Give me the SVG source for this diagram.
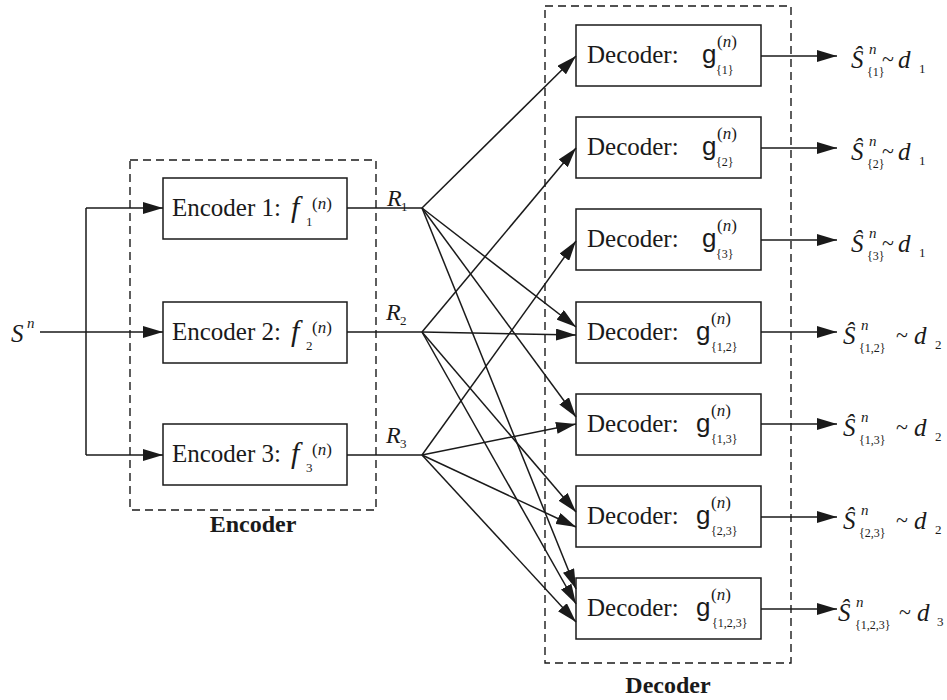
<svg xmlns="http://www.w3.org/2000/svg" width="947" height="700" viewBox="0 0 947 700">
<style>
text{font-family:"Liberation Serif","Times New Roman",serif;fill:#1a1a1a}
.box{fill:#fff;stroke:#1a1a1a;stroke-width:1.5}
.dash{fill:none;stroke:#1a1a1a;stroke-width:1.4;stroke-dasharray:8 5}
.ln{fill:none;stroke:#1a1a1a;stroke-width:1.5}
.ar{fill:none;stroke:#1a1a1a;stroke-width:1.5;marker-end:url(#ah)}
.lbl{font-size:25px}
.it{font-style:italic}
.f{font-size:30px;font-style:italic}
.sup{font-size:17px}
.sub{font-size:12px}
.g{font-family:"Liberation Sans",Arial,sans-serif;font-size:26px}
.out{font-size:25px;font-style:italic}
.on{font-size:15px;font-style:italic}
.til{font-size:22px}
.r{font-size:24px;font-style:italic}
.bold{font-size:24px;font-weight:bold}
</style>
<defs>
<marker id="ah" markerUnits="userSpaceOnUse" viewBox="0 0 20 12" refX="20" refY="6" markerWidth="20" markerHeight="12" orient="auto">
<path d="M0,0 L20,6 L0,12 Z" fill="#1a1a1a"/>
</marker>
</defs>

<g id="encoder-group">
<rect class="dash" x="130" y="160" width="246" height="350"/>
<text class="bold" x="253" y="532" text-anchor="middle">Encoder</text>
</g>
<g id="decoder-group">
<rect class="dash" x="545" y="6" width="246" height="657"/>
<text class="bold" x="668" y="693" text-anchor="middle">Decoder</text>
</g>

<g id="source">
<text class="lbl it" x="11" y="342">S</text>
<text class="it" x="27" y="328" font-size="15">n</text>
</g>

<g id="enc1">
<rect class="box" x="163" y="178" width="184" height="61"/>
<text class="lbl" x="172" y="216">Encoder 1:</text>
<text class="f" x="291" y="217">f</text>
<text class="sup" x="312" y="209">(<tspan class="it">n</tspan>)</text>
<text x="306" y="226" font-size="13">1</text>
</g>
<g id="enc2">
<rect class="box" x="163" y="302" width="184" height="61"/>
<text class="lbl" x="172" y="340">Encoder 2:</text>
<text class="f" x="291" y="341">f</text>
<text class="sup" x="312" y="333">(<tspan class="it">n</tspan>)</text>
<text x="306" y="350" font-size="13">2</text>
</g>
<g id="enc3">
<rect class="box" x="163" y="424" width="184" height="61"/>
<text class="lbl" x="172" y="462">Encoder 3:</text>
<text class="f" x="291" y="463">f</text>
<text class="sup" x="312" y="455">(<tspan class="it">n</tspan>)</text>
<text x="306" y="472" font-size="13">3</text>
</g>

<g id="rates">
<text class="r" x="387" y="206">R</text><text x="401" y="211" font-size="13">1</text>
<text class="r" x="386" y="320">R</text><text x="400" y="325" font-size="13">2</text>
<text class="r" x="386" y="443">R</text><text x="400" y="448" font-size="13">3</text>
</g>

<g id="dec1">
<rect class="box" x="576" y="25" width="185" height="61"/>
<text class="lbl" x="587" y="63">Decoder:</text>
<text class="g" x="702" y="63">g</text>
<text class="sup" x="717" y="47">(<tspan class="it">n</tspan>)</text>
<text class="sub" x="716" y="74">{1}</text>
</g>
<g id="dec2">
<rect class="box" x="576" y="117" width="185" height="61"/>
<text class="lbl" x="587" y="155">Decoder:</text>
<text class="g" x="702" y="155">g</text>
<text class="sup" x="717" y="139">(<tspan class="it">n</tspan>)</text>
<text class="sub" x="716" y="166">{2}</text>
</g>
<g id="dec3">
<rect class="box" x="576" y="209" width="185" height="61"/>
<text class="lbl" x="587" y="247">Decoder:</text>
<text class="g" x="702" y="247">g</text>
<text class="sup" x="717" y="231">(<tspan class="it">n</tspan>)</text>
<text class="sub" x="716" y="258">{3}</text>
</g>
<g id="dec12">
<rect class="box" x="576" y="302" width="185" height="61"/>
<text class="lbl" x="587" y="340">Decoder:</text>
<text class="g" x="696" y="340">g</text>
<text class="sup" x="711" y="324">(<tspan class="it">n</tspan>)</text>
<text class="sub" x="711" y="351">{1,2}</text>
</g>
<g id="dec13">
<rect class="box" x="576" y="394" width="185" height="61"/>
<text class="lbl" x="587" y="432">Decoder:</text>
<text class="g" x="696" y="432">g</text>
<text class="sup" x="711" y="416">(<tspan class="it">n</tspan>)</text>
<text class="sub" x="711" y="443">{1,3}</text>
</g>
<g id="dec23">
<rect class="box" x="576" y="486" width="185" height="61"/>
<text class="lbl" x="587" y="524">Decoder:</text>
<text class="g" x="696" y="524">g</text>
<text class="sup" x="711" y="508">(<tspan class="it">n</tspan>)</text>
<text class="sub" x="711" y="535">{2,3}</text>
</g>
<g id="dec123">
<rect class="box" x="576" y="578" width="185" height="61"/>
<text class="lbl" x="587" y="616">Decoder:</text>
<text class="g" x="696" y="616">g</text>
<text class="sup" x="711" y="600">(<tspan class="it">n</tspan>)</text>
<text class="sub" x="712" y="627">{1,2,3}</text>
</g>

<g id="outputs">
<text class="out" x="851" y="68">Ŝ</text><text class="on" x="869" y="54">n</text><text class="sub" x="867" y="76">{1}</text><text class="til" x="882" y="66">~</text><text class="out" x="898" y="68">d</text><text x="919" y="73" font-size="13">1</text>
<text class="out" x="851" y="160">Ŝ</text><text class="on" x="869" y="146">n</text><text class="sub" x="867" y="168">{2}</text><text class="til" x="882" y="158">~</text><text class="out" x="898" y="160">d</text><text x="919" y="165" font-size="13">1</text>
<text class="out" x="851" y="252">Ŝ</text><text class="on" x="869" y="238">n</text><text class="sub" x="867" y="260">{3}</text><text class="til" x="882" y="250">~</text><text class="out" x="898" y="252">d</text><text x="919" y="257" font-size="13">1</text>
<text class="out" x="843" y="344">Ŝ</text><text class="on" x="861" y="330">n</text><text class="sub" x="859" y="352">{1,2}</text><text class="til" x="896" y="342">~</text><text class="out" x="914" y="344">d</text><text x="935" y="349" font-size="13">2</text>
<text class="out" x="843" y="436">Ŝ</text><text class="on" x="861" y="422">n</text><text class="sub" x="859" y="444">{1,3}</text><text class="til" x="896" y="434">~</text><text class="out" x="914" y="436">d</text><text x="935" y="441" font-size="13">2</text>
<text class="out" x="843" y="529">Ŝ</text><text class="on" x="861" y="515">n</text><text class="sub" x="859" y="537">{2,3}</text><text class="til" x="896" y="527">~</text><text class="out" x="914" y="529">d</text><text x="935" y="534" font-size="13">2</text>
<text class="out" x="838" y="621">Ŝ</text><text class="on" x="856" y="607">n</text><text class="sub" x="855" y="629">{1,2,3}</text><text class="til" x="899" y="619">~</text><text class="out" x="917" y="621">d</text><text x="937" y="626" font-size="13">3</text>
</g>

<g id="connectors">
<path class="ln" d="M40,332 H86 M86,208 V455"/>
<path class="ar" d="M86,208 H163"/>
<path class="ar" d="M86,332 H163"/>
<path class="ar" d="M86,455 H163"/>
<path class="ln" d="M347,208 H422 M347,332 H422 M347,455 H422"/>
<path class="ar" d="M422,208 L576,56"/>
<path class="ar" d="M422,332 L576,148"/>
<path class="ar" d="M422,455 L576,241"/>
<path class="ar" d="M422,208 L576,327"/>
<path class="ar" d="M422,332 L576,335"/>
<path class="ar" d="M422,208 L576,417"/>
<path class="ar" d="M422,455 L576,424"/>
<path class="ar" d="M422,332 L576,512"/>
<path class="ar" d="M422,455 L576,527"/>
<path class="ar" d="M422,208 L576,589"/>
<path class="ar" d="M422,332 L576,604"/>
<path class="ar" d="M422,455 L576,622"/>
<path class="ar" d="M761,56 H837"/>
<path class="ar" d="M761,148 H837"/>
<path class="ar" d="M761,240 H837"/>
<path class="ar" d="M761,332 H837"/>
<path class="ar" d="M761,424 H837"/>
<path class="ar" d="M761,517 H837"/>
<path class="ar" d="M761,609 H837"/>
</g>
</svg>
